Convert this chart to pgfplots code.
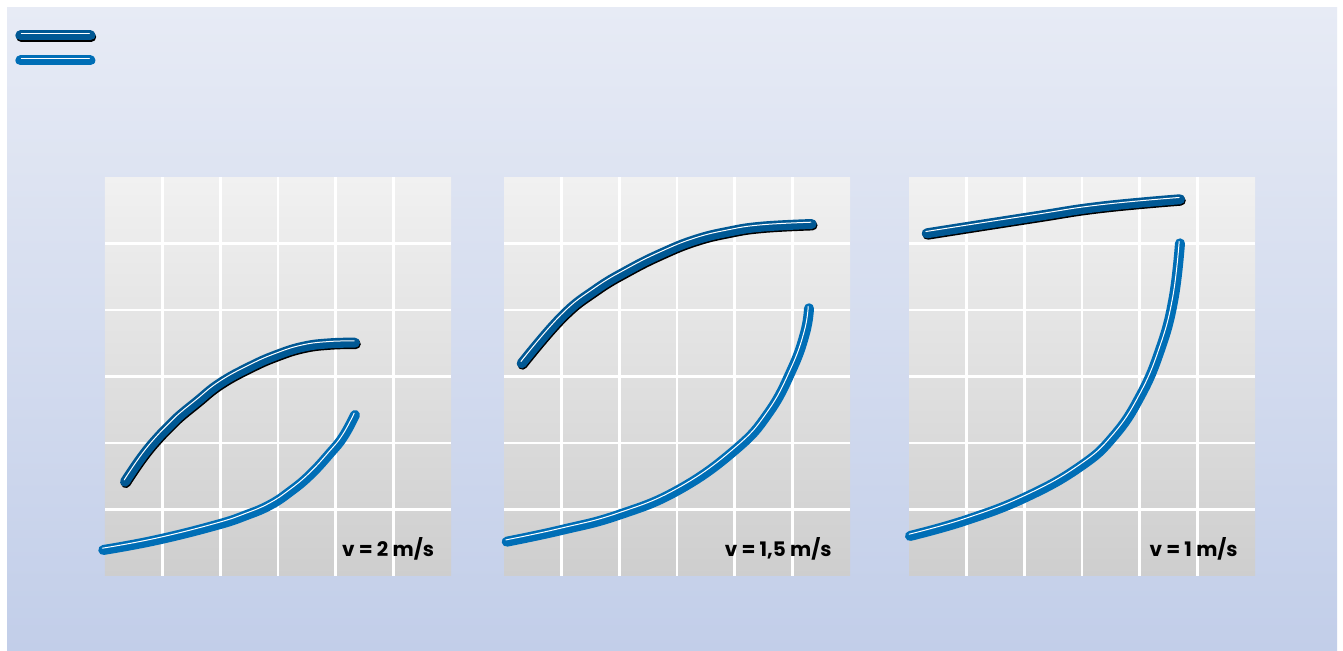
\documentclass[border=0pt]{standalone}
\usepackage{fontspec}
\setmainfont{Poppins}
\usepackage{pgfplots}
\usepackage{pgfplotstable}
\pgfplotsset{compat=1.18}

\definecolor{bgtop}{RGB}{231,235,245}
\definecolor{bgbot}{RGB}{194,206,233}
\definecolor{pantop}{RGB}{241,241,241}
\definecolor{panbot}{RGB}{206,206,206}
\definecolor{darkblue}{RGB}{0,88,148}
\definecolor{midblue}{RGB}{0,110,182}

% v = 2 m/s
\pgfplotstableread{
x y
0.347 1.418
0.664 1.820
0.983 2.146
1.243 2.372
1.590 2.621
1.994 2.898
2.514 3.147
2.977 3.323
3.439 3.448
3.901 3.499
4.335 3.508
}\upA
\pgfplotstableread{
x y
-0.03 0.391
0.896 0.541
1.937 0.767
2.457 0.917
2.861 1.068
3.208 1.268
3.555 1.519
3.901 1.845
4.132 2.095
4.335 2.421
}\loA
% v = 1,5 m/s
\pgfplotstableread{
x y
0.307 3.198
1.000 3.899
1.578 4.301
2.155 4.602
2.735 4.853
3.312 5.053
3.889 5.177
4.468 5.253
5.336 5.293
}\upB
\pgfplotstableread{
x y
0.047 0.516
1.000 0.692
1.982 0.917
3.022 1.293
4.006 1.895
4.583 2.447
4.989 3.098
5.219 3.650
5.289 4.026
}\loB
% v = 1 m/s
\pgfplotstableread{
x y
0.307 5.153
2.155 5.403
3.312 5.553
4.699 5.665
}\upC
\pgfplotstableread{
x y
0.017 0.602
1.000 0.842
2.041 1.192
2.965 1.644
3.543 2.095
4.005 2.696
4.352 3.398
4.583 4.150
4.699 5.003
}\loC

\pgfplotsset{
  panel/.style={
    scale only axis, width=173pt, height=199.5pt,
    xmin=0, xmax=6, ymin=0, ymax=6,
    xtick={1,...,5}, ytick={1,...,5},
    xticklabel=\empty, yticklabel=\empty,
    major tick length=0pt,
    grid=major, grid style={white, line width=1.3pt},
    axis line style={draw=none},
    axis background/.style={top color=pantop, bottom color=panbot},
    clip=false,
  },
  curve/.style={line width=5pt, line cap=round, smooth, tension=0.75, no marks},
  shadow/.style={curve, black, xshift=0.4pt, yshift=-0.7pt, forget plot},
  gloss/.style={white, line width=0.5pt, line cap=round, smooth, tension=0.75, no marks, xshift=-0.4pt, yshift=0.9pt, forget plot},
}
\tikzset{vlabel/.style={anchor=base east, inner sep=0pt, font=\bfseries\fontsize{10}{10}\selectfont}}

\begin{document}
\begin{tikzpicture}
\fill[white] (0,0) rectangle (671.5pt,325.5pt);
\shade[top color=bgtop, bottom color=bgbot] (3.5pt,0) rectangle (668.5pt,321.5pt);

\begin{axis}[panel, at={(52.5pt,37.5pt)}, anchor=south west,
  legend style={draw=none, fill=none, inner sep=0pt, row sep=0pt,
    at={(-0.2601,1.387)}, anchor=north west,
    nodes={inner sep=0pt, text height=6.25pt, text depth=6.25pt}}]
\addplot[shadow] table {\upA};
\addplot[curve, darkblue, legend image code/.code={
    \draw[black, line width=5pt, line cap=round] (0.4pt,-0.7pt) -- (35.4pt,-0.7pt);
    \draw[darkblue, line width=5pt, line cap=round] (0pt,0pt) -- (35pt,0pt);
    \draw[white, line width=0.5pt, line cap=round] (0.5pt,0.9pt) -- (34.5pt,0.9pt);}]
  table {\upA};
\addlegendentry{}
\addplot[gloss] table {\upA};
\addplot[curve, midblue, legend image code/.code={
    \draw[midblue, line width=5pt, line cap=round] (0pt,0pt) -- (35pt,0pt);
    \draw[white, line width=0.5pt, line cap=round] (0.5pt,0.9pt) -- (34.5pt,0.9pt);}]
  table {\loA};
\addlegendentry{}
\addplot[gloss] table {\loA};
\node[vlabel] at (rel axis cs:0.952,0.048) {v = 2 m/s};
\end{axis}

\begin{axis}[panel, at={(252pt,37.5pt)}, anchor=south west]
\addplot[shadow] table {\upB};
\addplot[curve, darkblue] table {\upB};
\addplot[gloss] table {\upB};
\addplot[curve, midblue] table {\loB};
\addplot[gloss] table {\loB};
\node[vlabel] at (rel axis cs:0.948,0.048) {v = 1,5 m/s};
\end{axis}

\begin{axis}[panel, at={(454.5pt,37.5pt)}, anchor=south west]
\addplot[shadow] table {\upC};
\addplot[curve, darkblue] table {\upC};
\addplot[gloss] table {\upC};
\addplot[curve, midblue] table {\loC};
\addplot[gloss] table {\loC};
\node[vlabel] at (rel axis cs:0.951,0.048) {v = 1 m/s};
\end{axis}
\end{tikzpicture}
\end{document}
